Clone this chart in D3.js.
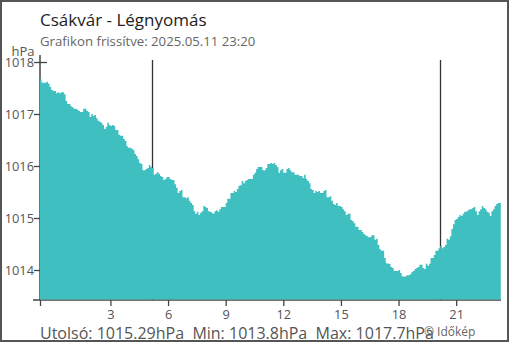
<!DOCTYPE html>
<html>
<head>
<meta charset="utf-8">
<script src="https://cdn.jsdelivr.net/npm/d3@7/dist/d3.min.js"></script>
<style>
html,body{margin:0;padding:0;background:#fff;}
svg{display:block;font-family:"Open Sans","Noto Sans",sans-serif;}
.pre{white-space:pre;}
</style>
</head>
<body>
<svg id="c" width="510" height="350"></svg>
<script>
// ---- data ----
const title = "Csákvár - Légnyomás";
const subtitle = "Grafikon frissítve: 2025.05.11 23:20";
const unit = "hPa";
const startHour = -2/3;      // 23:20 previous day
const endHour = 23 + 1/3;    // 23:20
const stepHours = 5/60;      // 5-minute readings
const sunrise = 5.18;
const sunset = 20.17;
const yTicks = [1014, 1015, 1016, 1017, 1018];
const xTicks = [3, 6, 9, 12, 15, 18, 21];
const summary = "Utolsó: 1015.29hPa  Min: 1013.8hPa  Max: 1017.7hPa";
const credit = "© Időkép";
const pressure = [
1017.67,1017.60,1017.60,1017.60,1017.62,
1017.58,1017.52,1017.46,1017.44,1017.44,
1017.40,1017.42,1017.40,1017.42,1017.42,
1017.38,1017.25,1017.19,1017.19,1017.15,
1017.13,1017.10,1017.10,1017.08,1017.06,
1017.04,1017.04,1017.10,1017.10,1017.06,
1017.04,1016.94,1017.00,1016.96,1016.98,
1016.92,1016.87,1016.85,1016.83,1016.79,
1016.71,1016.75,1016.83,1016.79,1016.77,
1016.79,1016.77,1016.69,1016.69,1016.60,
1016.58,1016.58,1016.52,1016.48,1016.38,
1016.35,1016.35,1016.33,1016.31,1016.23,
1016.19,1016.13,1016.06,1016.04,1015.92,
1015.92,1015.94,1015.96,1016.02,1015.98,
1015.96,1015.83,1015.85,1015.88,1015.85,
1015.81,1015.79,1015.73,1015.75,1015.79,
1015.79,1015.75,1015.73,1015.73,1015.65,
1015.58,1015.48,1015.52,1015.54,1015.40,
1015.40,1015.38,1015.40,1015.33,1015.29,
1015.25,1015.13,1015.08,1015.12,1015.06,
1015.10,1015.13,1015.23,1015.21,1015.19,
1015.13,1015.12,1015.10,1015.08,1015.13,
1015.15,1015.12,1015.17,1015.21,1015.21,
1015.21,1015.29,1015.37,1015.37,1015.48,
1015.48,1015.52,1015.50,1015.56,1015.62,
1015.63,1015.71,1015.67,1015.71,1015.73,
1015.75,1015.75,1015.75,1015.83,1015.87,
1015.94,1015.98,1015.98,1015.98,1015.92,
1015.92,1015.96,1016.04,1016.04,1016.06,
1016.04,1016.06,1016.02,1015.98,1015.87,
1015.92,1015.94,1015.87,1015.87,1015.94,
1015.96,1015.92,1015.88,1015.88,1015.83,
1015.83,1015.83,1015.81,1015.81,1015.77,
1015.83,1015.75,1015.71,1015.67,1015.56,
1015.54,1015.48,1015.52,1015.50,1015.52,
1015.48,1015.48,1015.52,1015.54,1015.40,
1015.40,1015.42,1015.33,1015.27,1015.25,
1015.29,1015.23,1015.23,1015.21,1015.17,
1015.13,1015.06,1015.08,1015.08,1014.96,
1014.94,1014.90,1014.83,1014.83,1014.77,
1014.77,1014.73,1014.69,1014.67,1014.65,
1014.63,1014.63,1014.67,1014.67,1014.58,
1014.60,1014.48,1014.40,1014.37,1014.37,
1014.23,1014.13,1014.12,1014.12,1014.06,
1014.04,1013.98,1013.98,1013.98,1014.00,
1013.94,1013.88,1013.87,1013.88,1013.90,
1013.90,1013.92,1013.96,1013.98,1014.02,
1014.04,1014.06,1014.10,1014.10,1014.04,
1014.02,1014.12,1014.08,1014.12,1014.23,
1014.23,1014.29,1014.37,1014.37,1014.42,
1014.46,1014.42,1014.44,1014.48,1014.60,
1014.58,1014.65,1014.79,1014.88,1014.96,
1014.98,1015.02,1015.06,1015.04,1015.08,
1015.12,1015.12,1015.15,1015.17,1015.17,
1015.19,1015.21,1015.13,1015.06,1015.13,
1015.17,1015.23,1015.19,1015.17,1015.12,
1015.10,1015.04,1015.13,1015.17,1015.23,
1015.27,1015.29,1015.29
];

// ---- layout ----
const L = 40, R = 501, T = 62, B = 300;
const svg = d3.select("#c");

svg.append("rect").attr("x",1).attr("y",1).attr("width",507).attr("height",340)
  .attr("fill","#fff").attr("stroke","#555").attr("stroke-width",2);

const x = d3.scaleLinear().domain([startHour, endHour]).range([L, R]);
const y = d3.scaleLinear().domain([1014, 1018]).range([270, T]);

// titles
svg.append("text").attr("x",40).attr("y",26).attr("font-size",17).attr("fill","#222").text(title);
svg.append("text").attr("x",40).attr("y",46).attr("font-size",13.2).attr("fill","#666").text(subtitle);
svg.append("text").attr("x",11.5).attr("y",56).attr("font-size",13).attr("fill","#555").text(unit);

// y axis
const yAxis = d3.axisLeft(y).tickValues(yTicks).tickSize(6).tickPadding(0).tickFormat(d3.format("d"));
const gy = svg.append("g").attr("transform",`translate(${L},0)`).call(yAxis);
gy.select(".domain").remove();
gy.selectAll(".tick line").attr("x2",7).attr("x1",-6).attr("stroke","#444").attr("stroke-width",1.3);
gy.selectAll(".tick text").attr("x",-6).attr("font-size",12.8).attr("fill","#555").attr("font-family","Open Sans, Noto Sans, sans-serif");
svg.append("line").attr("x1",L).attr("x2",L).attr("y1",55).attr("y2",B)
  .attr("stroke","#444").attr("stroke-width",1.5);

// x axis
const xAxis = d3.axisBottom(x).tickValues([startHour].concat(xTicks)).tickSize(6).tickPadding(4)
  .tickFormat(d => d === startHour ? "" : d);
const gx = svg.append("g").attr("transform",`translate(0,${B})`).call(xAxis);
gx.select(".domain").remove();
gx.selectAll(".tick line").attr("stroke","#444").attr("stroke-width",1.3);
gx.selectAll(".tick text").attr("font-size",12.8).attr("fill","#555").attr("font-family","Open Sans, Noto Sans, sans-serif");
svg.append("line").attr("x1",33).attr("x2",R).attr("y1",B).attr("y2",B)
  .attr("stroke","#444").attr("stroke-width",1.5);

// sunrise / sunset lines
[sunrise, sunset].forEach(h => {
  svg.append("line").attr("x1",Math.round(x(h))+0.5).attr("x2",Math.round(x(h))+0.5)
    .attr("y1",60).attr("y2",B).attr("stroke","#333").attr("stroke-width",1.3);
});

// area
const pts = pressure.map((v,i) => ({t: startHour + i*stepHours, v}));
pts.push({t: endHour - 0.01, v: pressure[pressure.length-1]});
const area = d3.area().curve(d3.curveStepAfter)
  .x(d => x(d.t)).y0(B - 0.5).y1(d => y(d.v));
svg.append("path").datum(pts).attr("d",area).attr("fill","#40bfc1");

// footer
svg.append("text").attr("class","pre").attr("xml:space","preserve")
  .attr("x",40).attr("y",338.5).attr("font-size",16).attr("fill","#555").text(summary);
svg.append("text").attr("x",424).attr("y",335.5).attr("font-size",12).attr("fill","#666").text(credit);
</script>
</body>
</html>
